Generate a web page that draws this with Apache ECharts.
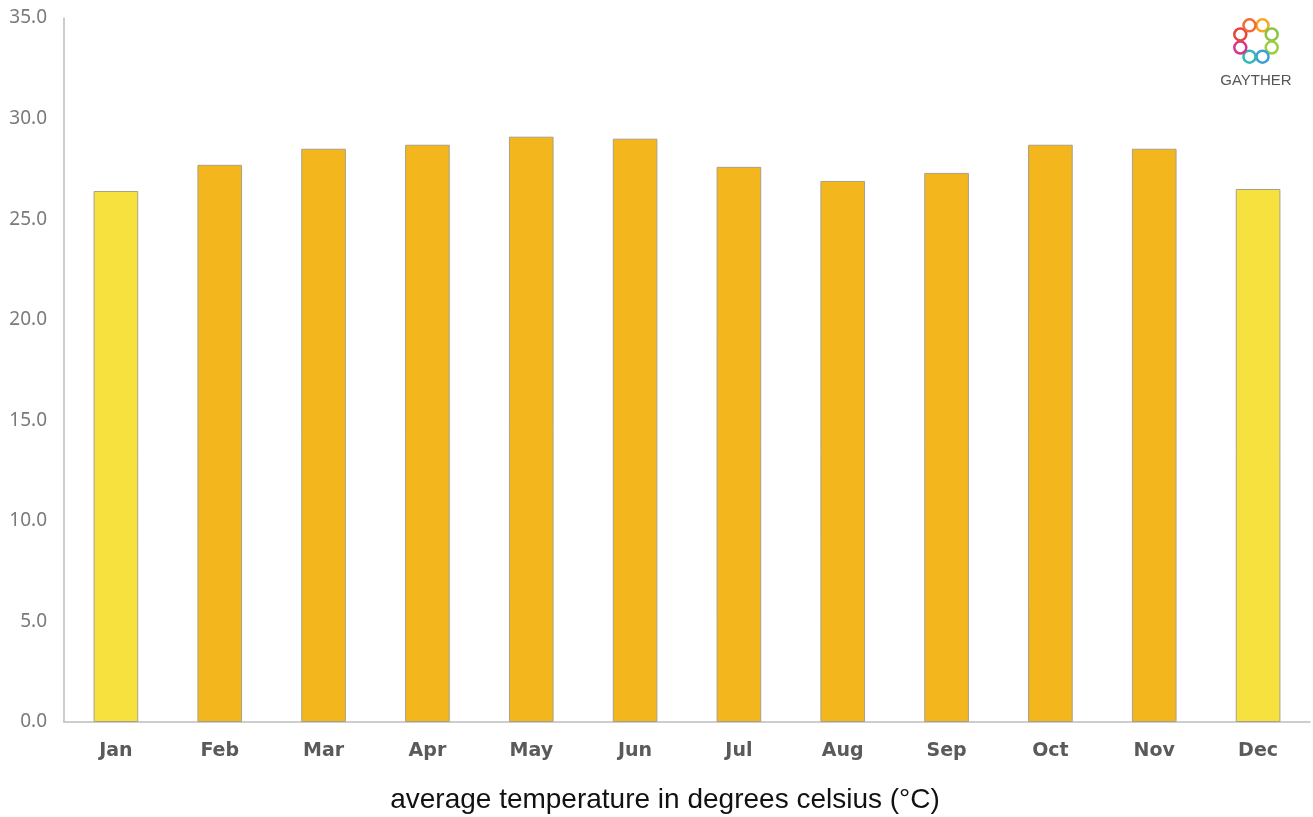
<!DOCTYPE html>
<html><head><meta charset="utf-8">
<script src="https://cdn.jsdelivr.net/npm/echarts@6/dist/echarts.min.js"></script>
<style>html,body{margin:0;padding:0;background:#fff}#c{width:1313px;height:817px}</style>
</head><body><div id="c"></div>
<script>
const months = ['Jan','Feb','Mar','Apr','May','Jun','Jul','Aug','Sep','Oct','Nov','Dec'];
const avgTemp = [26.4, 27.7, 28.5, 28.7, 29.1, 29.0, 27.6, 26.9, 27.3, 28.7, 28.5, 26.5];
const coolMonths = ['Jan','Dec'];
const yTicks = [0, 5, 10, 15, 20, 25, 30, 35];
const titleText = 'average temperature in degrees celsius (°C)';

const chart = echarts.init(document.getElementById('c'));
const logoColors = ['#f6a81c','#8cc63f','#9bcf3c','#3aa0d8','#33b8b5','#d6368c','#e8453c','#f26b35'];
const logo = [];
for (let i = 0; i < 8; i++) {
  const a = -Math.PI/2 - Math.PI/8 + i * Math.PI/4 + Math.PI/4;
  logo.push({type:'circle', shape:{cx:1256 + 17*Math.cos(a), cy:41 + 17*Math.sin(a), r:6},
    style:{fill:'#fff', stroke:logoColors[i], lineWidth:2.5}});
}
logo.push({type:'text', style:{text:'GAYTHER', x:1256, y:73, align:'center', fill:'#555', font:'15px "Liberation Sans", Arial'}});

chart.setOption({
  animation:false,
  grid:{left:64, right:3, top:18, bottom:95},
  xAxis:{type:'category', data:months,
    axisLine:{lineStyle:{color:'#bdbdbd', width:1.5}}, axisTick:{show:false},
    axisLabel:{color:'#5a5a5a', fontSize:19, fontWeight:'bold', fontFamily:'"DejaVu Sans"', margin:20}},
  yAxis:{type:'value', min:0, max:35, interval:5,
    axisLine:{show:true, lineStyle:{color:'#bdbdbd', width:1.5}}, axisTick:{show:false}, splitLine:{show:false},
    axisLabel:{color:'#7a7a7a', fontSize:19, fontFamily:'"Noto Sans"', margin:17, formatter:v=>v.toFixed(1)}},
  graphic: logo.concat([{type:'text', style:{text:titleText, x:665, y:800, align:'center', verticalAlign:'middle',
    fill:'#111', font:'28px "Liberation Sans", Arial'}}]),
  series:[{type:'bar', barWidth:'43%',
    data: avgTemp.map((v,i)=>({value:v, itemStyle:{color: coolMonths.includes(months[i]) ? '#f7e13f' : '#f3b71d'}})),
    itemStyle:{borderColor:'#a8a08a', borderWidth:1}}]
});
</script></body></html>
